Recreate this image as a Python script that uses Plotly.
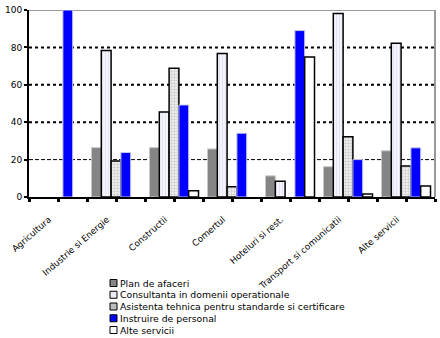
import plotly.graph_objects as go

# Categories and series values (percent)
categories = ["Agricultura", "Industrie si Energie", "Constructii", "Comertul",
              "Hoteluri si rest.", "Transport si comunicatii", "Alte servicii"]
series_names = ["Plan de afaceri",
                "Consultanta in domenii operationale",
                "Asistenta tehnica pentru standarde si certificare",
                "Instruire de personal",
                "Alte servicii"]
plan_afaceri = [0, 26.4, 26.4, 25.7, 11.3, 16.2, 24.7]
consultanta = [0, 78.4, 45.4, 76.7, 8.4, 98.1, 82.2]
asistenta = [0, 19.3, 68.8, 5.5, 0, 32.2, 16.6]
instruire = [100, 23.8, 49.2, 34.1, 89.0, 20.0, 26.3]
alte_servicii = [0, 0, 3.4, 0, 74.9, 1.6, 5.9]
y_ticks = [0, 20, 40, 60, 80, 100]

values = [plan_afaceri, consultanta, asistenta, instruire, alte_servicii]

styles = [
    dict(color="#858585", line=dict(color="#c8c8c8", width=1)),
    dict(color="#f2f2fb", line=dict(color="#000000", width=1.5),
         pattern=dict(shape="|", fgcolor="#cfcfe4", bgcolor="#f4f4fc", size=3, solidity=0.3)),
    dict(color="#e6e6e6", line=dict(color="#000000", width=1.5),
         pattern=dict(shape="+", fgcolor="#9a9a9a", bgcolor="#ececec", size=3, solidity=0.3)),
    dict(color="#0000ff", line=dict(color="#c8c8e8", width=1)),
    dict(color="#ffffff", line=dict(color="#000000", width=1.5)),
]
legend_fill = ["#858585", "#ececf6", "#bdbdbd", "#0000ff", "#ffffff"]

W, H = 440, 338
L, R, T, B = 29, 5, 10, 141

x_pos = list(range(len(categories)))

fig = go.Figure()
for name, vals, st in zip(series_names, values, styles):
    # empty cells (zero) are left undrawn, so no outline appears on the axis
    shown = [v if v > 0 else None for v in vals]
    fig.add_trace(go.Bar(x=x_pos, y=shown, name=name, marker=st, showlegend=False))


def px(x):
    return (x - L) / (W - L - R)


def py(y):
    return (H - B - y) / (H - B - T)


shapes = []
# horizontal grid lines
for v in y_ticks[1:-1]:
    if v == 20:
        ln = dict(color="#000000", width=1, dash="4px,2px")
    else:
        ln = dict(color="#000000", width=2, dash="dot")
    shapes.append(dict(type="line", xref="paper", yref="y", x0=0, x1=1, y0=v, y1=v,
                       line=ln, layer="below"))
# top and right frame in gray
shapes.append(dict(type="line", xref="paper", yref="y", x0=-0.005, x1=1, y0=100, y1=100,
                   line=dict(color="#999999", width=2), layer="below"))
shapes.append(dict(type="line", xref="paper", yref="y", x0=1, x1=1, y0=0, y1=100,
                   line=dict(color="#999999", width=2), layer="below"))

# legend drawn as boxes with text
annotations = []
leg_x, leg_y0, leg_dy = 110, 283, 11.75
for i, (name, fill) in enumerate(zip(series_names, legend_fill)):
    yc = leg_y0 + i * leg_dy
    shapes.append(dict(type="rect", xref="paper", yref="paper",
                       x0=px(leg_x), x1=px(leg_x + 7), y0=py(yc - 3.5), y1=py(yc + 3.5),
                       fillcolor=fill, line=dict(color="#000000", width=1)))
    annotations.append(dict(xref="paper", yref="paper", x=px(leg_x + 8), y=py(yc),
                            xanchor="left", yanchor="middle", showarrow=False, text=name,
                            font=dict(family="DejaVu Sans", size=9.3, color="#000000")))

fig.update_layout(
    width=W, height=H,
    margin=dict(l=L, r=R, t=T, b=B),
    paper_bgcolor="#ffffff", plot_bgcolor="#ffffff",
    barmode="group", bargap=0.155, bargroupgap=0,
    shapes=shapes, annotations=annotations,
    font=dict(family="DejaVu Sans", size=8, color="#000000"),
    xaxis=dict(
        range=[-0.5, len(categories) - 0.5],
        tickvals=x_pos, ticktext=categories, tickangle=-41,
        ticks="outside", ticklen=3, tickwidth=3, tickcolor="#000000",
        ticklabelstandoff=9, ticklabelshift=-9,
        minor=dict(tickvals=[i - 0.5 for i in range(len(categories) + 1)],
                   ticks="outside", ticklen=3, tickwidth=3, tickcolor="#000000"),
        showline=True, linecolor="#000000", linewidth=2,
        showgrid=False, zeroline=False,
        tickfont=dict(family="DejaVu Sans", size=8.8),
    ),
    yaxis=dict(
        range=[0, 100], tickvals=y_ticks,
        ticks="outside", ticklen=3, tickwidth=2, tickcolor="#000000",
        showline=True, linecolor="#000000", linewidth=2,
        showgrid=False, zeroline=False,
        tickfont=dict(family="DejaVu Sans", size=9),
    ),
)

fig.write_html("out.html")
